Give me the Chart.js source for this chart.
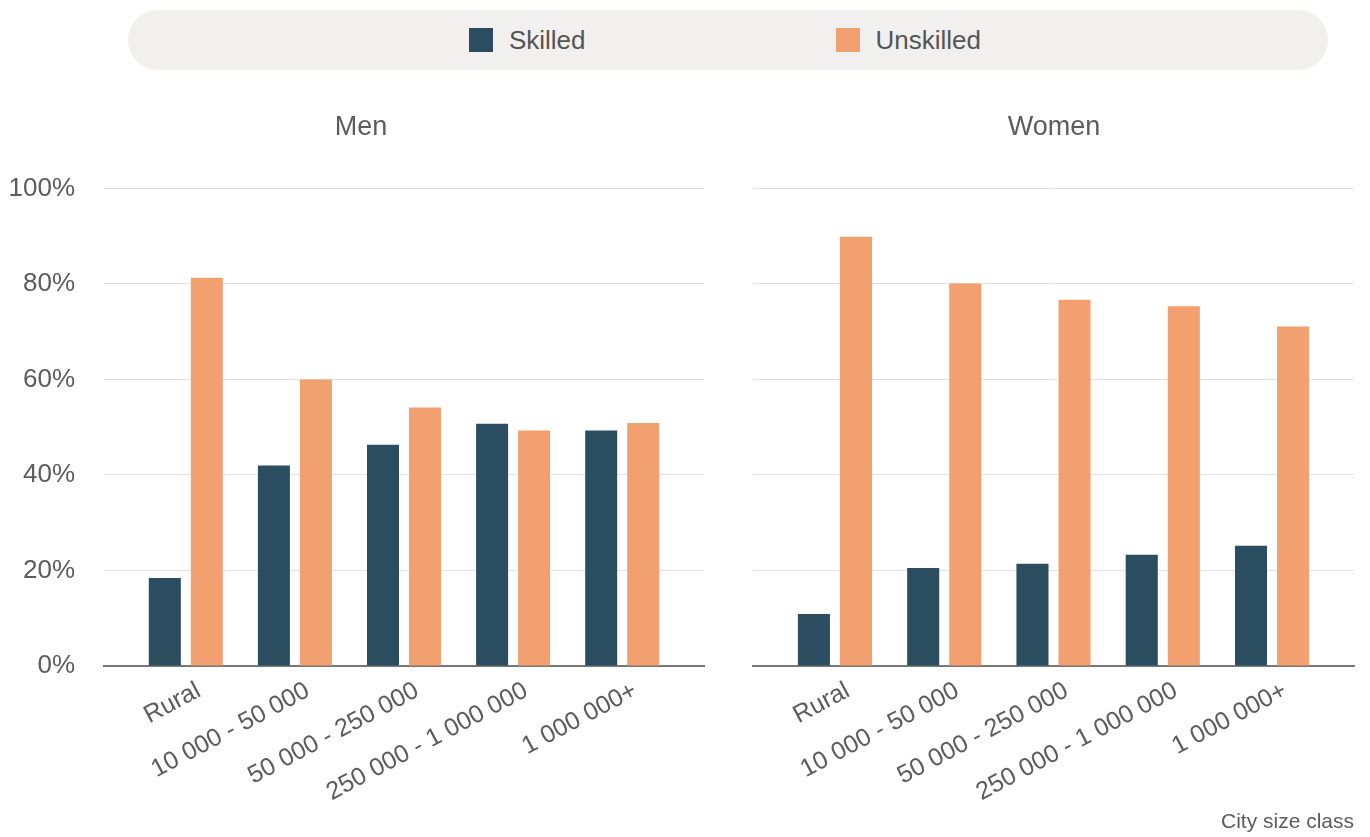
<!DOCTYPE html>
<html>
<head>
<meta charset="utf-8">
<script src="https://cdn.jsdelivr.net/npm/chart.js@4/dist/chart.umd.min.js"></script>
<style>
  html, body { margin: 0; padding: 0; background: #fff; }
  body { width: 1370px; height: 837px; position: relative; overflow: hidden;
         font-family: "Liberation Sans", Arial, sans-serif; }
  #legend { position: absolute; left: 128px; top: 10px; width: 1194px; height: 60px;
            padding-right: 6px; border-radius: 30px; background: #f1f0ee; display: flex;
            align-items: center; justify-content: center; gap: 250px; }
  .item { display: flex; align-items: center; color: #555; font-size: 26px; }
  .swatch { width: 24px; height: 24px; margin-right: 16px; }
  .panel { position: absolute; top: 90px; height: 747px; }
  #menBox { left: 0; width: 722px; }
  #womenBox { left: 738px; width: 632px; }
</style>
</head>
<body>
<div id="legend"></div>
<div class="panel" id="menBox"><canvas id="menChart"></canvas></div>
<div class="panel" id="womenBox"><canvas id="womenChart"></canvas></div>

<script>
// share of skilled / unskilled workers by city size class, in %
const cityClasses = ["Rural", "10 000 - 50 000", "50 000 - 250 000", "250 000 - 1 000 000", "1 000 000+"];
const seriesNames = ["Skilled", "Unskilled"];
const seriesColors = ["#2a4e5f", "#f3a071"];

const menSkilled = [18.4, 42.0, 46.3, 50.7, 49.3];
const menUnskilled = [81.3, 60.0, 54.1, 49.3, 50.9];
const womenSkilled = [10.9, 20.5, 21.4, 23.3, 25.2];
const womenUnskilled = [89.9, 80.1, 76.7, 75.3, 71.1];

const yTicks = [0, 20, 40, 60, 80, 100];

const FONT = "'Liberation Sans', Arial, sans-serif";
const TEXT = "#5c5c5c";

function buildLegend() {
  const legend = document.getElementById("legend");
  seriesNames.forEach((name, i) => {
    const item = document.createElement("div");
    item.className = "item";
    item.innerHTML = `<span class="swatch" style="background:${seriesColors[i]}"></span>${name}`;
    legend.appendChild(item);
  });
}

function toPoints(values) {
  return values.map((v, i) => ({ x: i, y: v }));
}

function renderPanel(canvas, title, skilled, unskilled, isFirst) {
  const ctx = canvas.getContext("2d");
  return new Chart(ctx, {
    type: "bar",
    data: {
      datasets: [skilled, unskilled].map((values, i) => ({
        label: seriesNames[i],
        data: toPoints(values),
        backgroundColor: seriesColors[i],
        categoryPercentage: 0.77,
        barPercentage: 0.762,
      })),
    },
    options: {
      responsive: true,
      maintainAspectRatio: false,
      animation: false,
      layout: { padding: 0 },
      plugins: {
        legend: { display: false },
        tooltip: { enabled: false },
        title: {
          display: true,
          text: title,
          color: TEXT,
          font: { family: FONT, size: 27, weight: "normal" },
          padding: { top: 21, bottom: 45 },
        },
      },
      scales: {
        x: {
          type: "linear",
          offset: false,
          min: -0.75,
          max: 4.75,
          afterBuildTicks: (scale) => {
            scale.ticks = cityClasses.map((_, i) => ({ value: i }));
          },
          afterFit: (scale) => { scale.height = 171; },
          ticks: {
            callback: (v) => cityClasses[v],
            autoSkip: false,
            minRotation: 28,
            maxRotation: 28,
            padding: 10,
            labelOffset: 13,
            color: TEXT,
            font: { family: FONT, size: 25 },
          },
          grid: { display: false, drawTicks: false },
          border: { display: true, color: "#777", width: 2 },
          title: {
            display: !isFirst,
            text: "City size class",
            align: "end",
            color: TEXT,
            font: { family: FONT, size: 21 },
            padding: { top: 0, bottom: 2 },
          },
        },
        y: {
          min: 0,
          max: 100,
          afterBuildTicks: (scale) => {
            scale.ticks = yTicks.map((v) => ({ value: v }));
          },
          afterFit: (scale) => { scale.width = isFirst ? 104 : 15; },
          ticks: {
            display: isFirst,
            callback: (v) => v + "%",
            padding: 29,
            color: TEXT,
            font: { family: FONT, size: 26 },
          },
          grid: { color: "#e2e2e2", lineWidth: 1, drawTicks: false },
          border: { display: false },
        },
        // empty right-hand axis, only keeps the margin so the title stays centred on the canvas
        pad: {
          position: "right",
          afterFit: (scale) => { scale.width = isFirst ? 18 : 16; },
          ticks: { display: false },
          grid: { display: false, drawTicks: false },
          border: { display: false },
        },
      },
    },
  });
}

document.addEventListener("DOMContentLoaded", () => {
  buildLegend();
  renderPanel(document.getElementById("menChart"), "Men", menSkilled, menUnskilled, true);
  renderPanel(document.getElementById("womenChart"), "Women", womenSkilled, womenUnskilled, false);
});
</script>
</body>
</html>
